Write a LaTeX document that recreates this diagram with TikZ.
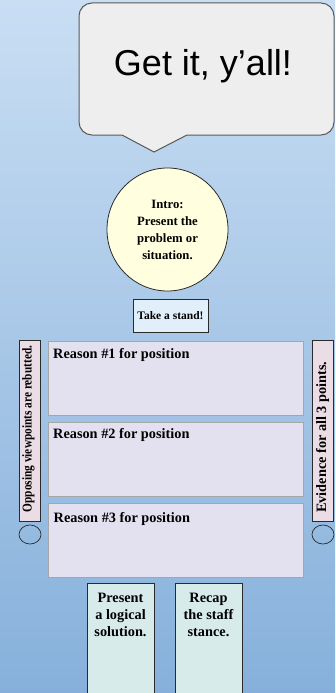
\documentclass[tikz,border=0pt]{standalone}
\usepackage{fontspec}
\setmainfont{Liberation Serif}
\newfontfamily\arialf{Liberation Sans}
\usetikzlibrary{shapes.geometric}
\definecolor{bgtop}{HTML}{C9DEF3}
\definecolor{bgbot}{HTML}{86B0DB}
\definecolor{bubblefill}{HTML}{EEEEEE}
\definecolor{bubbleline}{HTML}{595959}
\definecolor{introfill}{HTML}{FFFFE0}
\definecolor{standfill}{HTML}{E1EFFA}
\definecolor{reasonfill}{HTML}{E3E1EF}
\definecolor{reasonline}{HTML}{A6A6A6}
\definecolor{sidefill}{HTML}{EBDDE6}
\definecolor{bottomfill}{HTML}{D7EBEB}
\definecolor{darkline}{HTML}{2A2A2A}
\tikzset{
  reasonbox/.style={draw=reasonline, line width=1.3pt, fill=reasonfill, anchor=north west, minimum width=255pt, minimum height=74pt, inner sep=0pt},
  reasonlbl/.style={anchor=base west, inner sep=0pt, font=\bfseries\fontsize{14.3}{17}\selectfont},
  sidebox/.style={draw=darkline, line width=0.8pt, fill=sidefill, anchor=north west, minimum width=21pt, minimum height=181pt, inner sep=0pt},
  sidelbl/.style={rotate=90, anchor=base west, inner sep=0pt, font=\bfseries\fontsize{14.3}{17}\selectfont},
  bottombox/.style={draw=darkline, line width=0.8pt, fill=bottomfill, anchor=north west, minimum width=67pt, minimum height=120pt, inner sep=0pt},
  bottomlbl/.style={anchor=north, align=center, inner sep=0pt, font=\bfseries\fontsize{14.3}{17}\selectfont},
  hole/.style={ellipse, draw=darkline, line width=0.7pt, minimum width=22pt, minimum height=19pt, inner sep=0pt}
}
\begin{document}
\begin{tikzpicture}[x=1pt,y=-1pt]
\useasboundingbox (0,0) rectangle (335,693);
\shade[top color=bgtop, bottom color=bgbot] (0,0) rectangle (335,693);
% speech bubble
\draw[fill=bubblefill, draw=bubbleline, line width=1pt]
  (154,152) -- (122,135) -- (92,135)
  arc[start angle=90, end angle=180, radius=13] -- (79,16)
  arc[start angle=180, end angle=270, radius=13] -- (321,3)
  arc[start angle=270, end angle=360, radius=13] -- (334,122)
  arc[start angle=0, end angle=90, radius=13] -- (187,135) -- cycle;
\node[anchor=base, inner sep=0pt, font=\arialf\fontsize{36}{40}\selectfont] (title) at (203,75) {Get it, y’all!};
% intro circle
\node[ellipse, draw=darkline, line width=0.8pt, fill=introfill, minimum width=121pt, minimum height=123pt, inner sep=0pt, align=center, font=\bfseries\fontsize{12.7}{17}\selectfont] (intro) at (167.5,229.5) {Intro:\\Present the\\problem or\\situation.};
% take a stand
\node[draw=darkline, line width=0.8pt, fill=standfill, minimum width=75pt, minimum height=33pt, inner sep=0pt, font=\bfseries\fontsize{11.5}{14}\selectfont] (stand) at (170.5,315.5) {Take a stand!};
% reasons
\node[reasonbox] (r1) at (48,341) {};
\node[reasonbox] (r2) at (48,422) {};
\node[reasonbox] (r3) at (48,502.5) {};
\node[reasonlbl] (r1l) at (53,358) {Reason \#1 for position};
\node[reasonlbl] (r2l) at (53,438.5) {Reason \#2 for position};
\node[reasonlbl] (r3l) at (53.5,522.5) {Reason \#3 for position};
% side boxes
\node[sidebox] (lside) at (19,340) {};
\node[sidebox] (rside) at (312,340) {};
\node[sidelbl] (lsidel) at (31.5,512.5) {\scalebox{0.84}[1]{\fontsize{13.5}{16}\selectfont Opposing viewpoints are rebutted.}};
\node[sidelbl] (rsidel) at (326,513) {Evidence for all 3 points.};
\node[hole] (lhole) at (30,534.5) {};
\node[hole] (rhole) at (323,534.5) {};
% bottom boxes
\node[bottombox] (sol) at (87,583) {};
\node[bottombox] (recap) at (175,583) {};
\node[bottomlbl] (soll) at (120.5,592.5) {Present\\a logical\\solution.};
\node[bottomlbl] (recapl) at (208.5,592.5) {Recap\\the staff\\stance.};
\end{tikzpicture}
\end{document}
